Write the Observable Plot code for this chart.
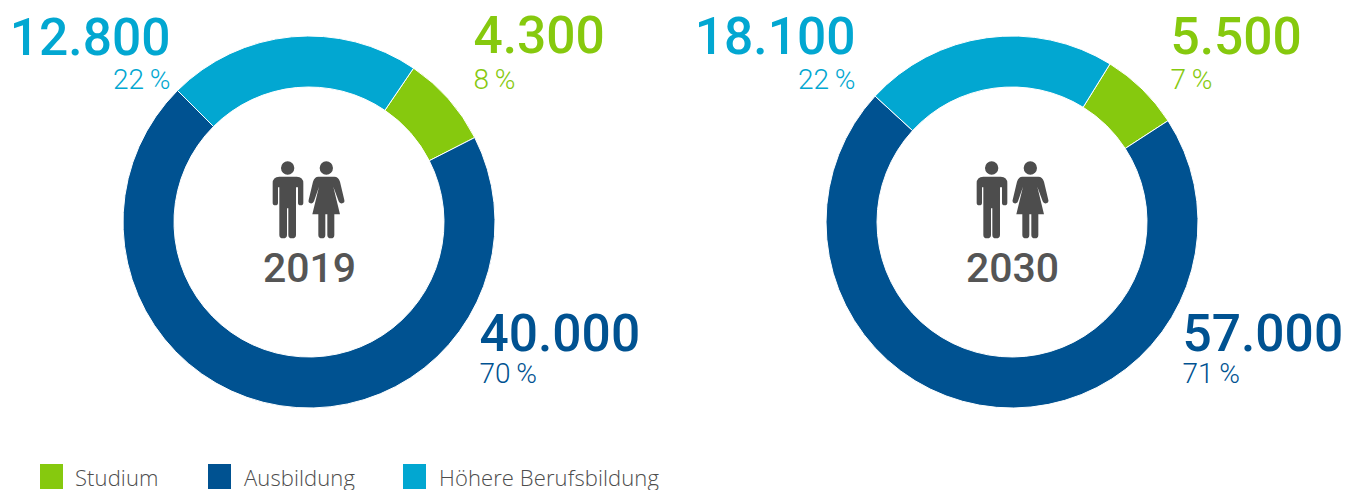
<!DOCTYPE html>
<html lang="de">
<head>
<meta charset="utf-8">
<script src="https://cdn.jsdelivr.net/npm/d3@7"></script>
<script src="https://cdn.jsdelivr.net/npm/@observablehq/plot@0.6"></script>
<style>
html,body{margin:0;padding:0;background:#fff;overflow:hidden}
#chart svg{display:block}
#legend{position:absolute;left:0;top:464px;width:1347px;height:26px;font-family:"Open Sans",sans-serif;font-weight:300;font-size:22px;letter-spacing:.1px;color:#4d4d4d}
#legend span{position:absolute;top:1px;line-height:24px;white-space:nowrap}
#legend i{position:absolute;top:0;width:23px;height:25px;display:block}
</style>
</head>
<body>
<div id="chart"></div>
<div id="legend"></div>
<script>
const years = ["2019", "2030"];
const categories = ["Studium", "Ausbildung", "Höhere Berufsbildung"];
const colors = ["#86c90e", "#005291", "#02a7d1"];
const persons2019 = [4300, 40000, 12800];
const persons2030 = [5500, 57000, 18100];
const shares2019 = [8, 70, 22];
const shares2030 = [7, 71, 22];
const startAngles = {"2019": 34.2, "2030": 31.8};

const rows = years.flatMap((year, j) => categories.map((category, i) => ({
  year, category,
  persons: (j ? persons2030 : persons2019)[i],
  share: (j ? shares2030 : shares2019)[i]
})));

const fmt = n => d3.format(",")(n).replace(/,/g, ".");
const centre = "c";

// Layout of the value labels relative to each ring centre
const labelLayout = {
  "2019": {
    "Studium": {dx: 164, dy: -186, pdy: -142, anchor: "start"},
    "Ausbildung": {dx: 170, dy: 112, pdy: 152, anchor: "start"},
    "Höhere Berufsbildung": {dx: -139, dy: -184, pdy: -142, anchor: "end"}
  },
  "2030": {
    "Studium": {dx: 158, dy: -185, pdy: -142, anchor: "start"},
    "Ausbildung": {dx: 170, dy: 112, pdy: 152, anchor: "start"},
    "Höhere Berufsbildung": {dx: -157, dy: -185, pdy: -142, anchor: "end"}
  }
};
const iconShift = {"2019": -2, "2030": -1};

const manPath = "M88,80H140Q160,80 160,100V158Q160,166 152,166Q144,166 144,158V112H138V255Q138,265 126,265Q115,265 115,255V175H111V255Q111,265 99,265Q88,265 88,255V112H84V158Q84,166 76,166Q68,166 68,158V100Q68,80 88,80ZM133,54A20,20 0 1 1 93,54A20,20 0 1 1 133,54Z";
const womanPath = "M205,80H253Q265,80 270,95L283,150Q285,158 277,160Q269,162 266,154L250,110L270,193H253V255Q253,265 243,265Q232,265 232,255V193H226V255Q226,265 216,265Q205,265 205,255V193H187L207,110L192,154Q189,162 181,160Q174,158 176,150L189,95Q194,80 205,80ZM249,54A20,20 0 1 1 209,54A20,20 0 1 1 249,54Z";

// Ring slices: centre comes from the x/y scales, fill from the colour scale
function ringRender(index, scales, values) {
  const g = d3.create("svg:g");
  const arc = d3.arc().innerRadius(135).outerRadius(186);
  for (const year of years) {
    const idx = index.filter(i => rows[i].year === year);
    const start = startAngles[year] * Math.PI / 180;
    const arcs = d3.pie().sort(null).value(i => rows[i].share)
      .startAngle(start).endAngle(start + 2 * Math.PI)(idx);
    for (const a of arcs) {
      g.append("path")
        .attr("transform", `translate(${values.x[a.data]},${values.y[a.data]})`)
        .attr("d", arc(a))
        .attr("fill", scales.color(rows[a.data].category))
        .attr("stroke", "#fff")
        .attr("stroke-width", 1);
    }
  }
  return g.node();
}

function iconRender(index, scales, values) {
  const g = d3.create("svg:g").attr("fill", "#4d4d4d");
  for (const i of index) {
    const t = `translate(${values.x[i] + iconShift[years[i]] - 57},${values.y[i] - 72}) scale(0.3333)`;
    g.append("path").attr("transform", t).attr("d", manPath);
    g.append("path").attr("transform", t).attr("d", womanPath);
  }
  return g.node();
}

const labelMarks = rows.flatMap(d => {
  const l = labelLayout[d.year][d.category];
  return [
    Plot.text([d], {
      x: "year", y: () => centre, text: r => fmt(r.persons),
      dx: l.dx, dy: l.dy, textAnchor: l.anchor, fill: "category",
      fontFamily: "Roboto,sans-serif", fontWeight: 500, fontSize: 51.5
    }),
    Plot.text([d], {
      x: "year", y: () => centre, text: r => r.share + "\u2009%",
      dx: l.dx, dy: l.pdy, textAnchor: l.anchor, fill: "category",
      fontFamily: "Roboto,sans-serif", fontWeight: 300, fontSize: 28
    })
  ];
});

const plot = Plot.plot({
  width: 1347, height: 464,
  margin: 0,
  style: {background: "#fff"},
  x: {type: "point", domain: years, range: [309, 1012.5], padding: 0, axis: null},
  y: {type: "point", domain: [centre], range: [222, 222], padding: 0, axis: null},
  color: {domain: categories, range: colors},
  marks: [
    Plot.dot(rows, {x: "year", y: () => centre, fill: "category", render: ringRender}),
    Plot.dot(years, {x: d => d, y: () => centre, render: iconRender}),
    Plot.text(years, {
      x: d => d, y: () => centre, text: d => d, dy: 46, fill: "#555",
      fontFamily: "Roboto,sans-serif", fontWeight: 500, fontSize: 41
    }),
    ...labelMarks
  ]
});
document.getElementById("chart").appendChild(plot);

const swatchX = [40, 208, 403];
const textX = [75, 244, 439];
const legend = d3.select("#legend");
categories.forEach((c, i) => {
  legend.append("i").style("left", swatchX[i] + "px").style("background", plot.scale("color").apply(c));
  legend.append("span").style("left", textX[i] + "px").text(c);
});
</script>
</body>
</html>
